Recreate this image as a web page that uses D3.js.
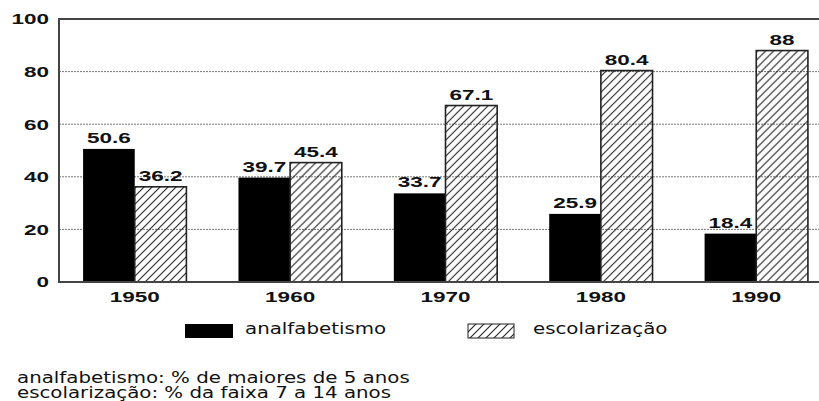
<!DOCTYPE html>
<html>
<head>
<meta charset="utf-8">
<script src="https://cdn.jsdelivr.net/npm/d3@7"></script>
<style>
  body { margin: 0; background: #fff; }
  svg { display: block; }
</style>
</head>
<body>
<div id="chart-area"></div>
<script>
// Datos
const years = ["1950", "1960", "1970", "1980", "1990"];
const analfabetismo = [50.6, 39.7, 33.7, 25.9, 18.4];
const escolarizacao = [36.2, 45.4, 67.1, 80.4, 88];
const yTicks = [0, 20, 40, 60, 80, 100];
const seriesNames = ["analfabetismo", "escolarização"];
const notes = [
    "analfabetismo: % de maiores de 5 anos",
    "escolarização: % da faixa 7 a 14 anos"
];

const W = 819, H = 401;
const plot = { left: 59, top: 19, right: 832, bottom: 282 };

const svg = d3.select("#chart-area")
    .append("svg")
    .attr("width", W)
    .attr("height", H);

// Patrón rayado
svg.append("defs").append("pattern")
    .attr("id", "hatch")
    .attr("patternUnits", "userSpaceOnUse")
    .attr("width", 8)
    .attr("height", 8)
    .append("path")
    .attr("d", "M-2,2 L2,-2 M0,8 L8,0 M6,10 L10,6")
    .attr("stroke", "#222")
    .attr("stroke-width", 1.1);

// Escalas
const x0 = d3.scaleBand()
    .domain(years)
    .range([plot.left, plot.right])
    .paddingInner(0.335)
    .paddingOuter(0.155);

const x1 = d3.scaleBand()
    .domain([0, 1])
    .range([0, x0.bandwidth()]);

const y = d3.scaleLinear()
    .domain([0, 100])
    .range([plot.bottom, plot.top]);

const boldText = (sel) => sel
    .attr("font-family", "Liberation Sans, Arial, sans-serif")
    .attr("font-weight", "bold")
    .attr("font-size", 15)
    .attr("fill", "#111");

const plainText = (sel) => sel
    .attr("font-family", "DejaVu Sans, sans-serif")
    .attr("font-size", 16.5)
    .attr("fill", "#111");

// Rejilla
svg.append("g")
    .selectAll("line")
    .data(yTicks.filter(d => d > 0 && d < 100))
    .enter().append("line")
    .attr("x1", plot.left)
    .attr("x2", W)
    .attr("y1", d => y(d))
    .attr("y2", d => y(d))
    .attr("stroke", "#777")
    .attr("stroke-width", 1)
    .attr("stroke-dasharray", "2,1");

// Etiquetas eje Y
svg.append("g")
    .selectAll("text")
    .data(yTicks)
    .enter().append("text")
    .call(boldText)
    .attr("text-anchor", "end")
    .attr("dy", "0.36em")
    .attr("transform", d => `translate(49, ${y(d)}) scale(1.5,1)`)
    .text(d => d);

// Barras
const groups = svg.append("g")
    .selectAll("g")
    .data(years)
    .enter().append("g")
    .attr("transform", d => `translate(${x0(d)}, 0)`);

groups.append("rect")
    .attr("x", x1(0))
    .attr("y", (d, i) => y(analfabetismo[i]))
    .attr("width", x1.bandwidth())
    .attr("height", (d, i) => y(0) - y(analfabetismo[i]))
    .attr("fill", "#000");

groups.append("rect")
    .attr("x", x1(1))
    .attr("y", (d, i) => y(escolarizacao[i]))
    .attr("width", x1.bandwidth())
    .attr("height", (d, i) => y(0) - y(escolarizacao[i]))
    .attr("fill", "url(#hatch)")
    .attr("stroke", "#222")
    .attr("stroke-width", 1.6);

// Etiquetas de valor
groups.append("text")
    .call(boldText)
    .attr("text-anchor", "middle")
    .attr("transform", (d, i) =>
        `translate(${x1(0) + x1.bandwidth() / 2}, ${y(analfabetismo[i]) - 6}) scale(1.5,1)`)
    .text((d, i) => analfabetismo[i]);

groups.append("text")
    .call(boldText)
    .attr("text-anchor", "middle")
    .attr("transform", (d, i) =>
        `translate(${x1(1) + x1.bandwidth() / 2}, ${y(escolarizacao[i]) - 6}) scale(1.5,1)`)
    .text((d, i) => escolarizacao[i]);

// Etiquetas eje X
groups.append("text")
    .call(boldText)
    .attr("text-anchor", "middle")
    .attr("transform", `translate(${x0.bandwidth() / 2}, 302) scale(1.5,1)`)
    .text(d => d);

// Marco
svg.append("path")
    .attr("d", `M${W},${plot.top} H${plot.left} V${plot.bottom} H${W}`)
    .attr("fill", "none")
    .attr("stroke", "#444")
    .attr("stroke-width", 2);

// Leyenda
const legend = svg.append("g");
const legendBox = [{ x: 185, w: 48 }, { x: 468, w: 46 }];
const legendText = [245, 533];
legend.selectAll("rect")
    .data(seriesNames)
    .enter().append("rect")
    .attr("x", (d, i) => legendBox[i].x)
    .attr("y", 324)
    .attr("width", (d, i) => legendBox[i].w)
    .attr("height", 14)
    .attr("fill", (d, i) => i === 0 ? "#000" : "url(#hatch)")
    .attr("stroke", (d, i) => i === 0 ? "none" : "#222")
    .attr("stroke-width", 1);

legend.selectAll("text")
    .data(seriesNames)
    .enter().append("text")
    .call(plainText)
    .attr("transform", (d, i) => `translate(${legendText[i]}, 334) scale(1.2,1)`)
    .text(d => d);

// Notas
svg.append("g")
    .selectAll("text")
    .data(notes)
    .enter().append("text")
    .call(plainText)
    .attr("transform", (d, i) => `translate(17, ${383 + i * 15}) scale(1.2,1)`)
    .text(d => d);
</script>
</body>
</html>
